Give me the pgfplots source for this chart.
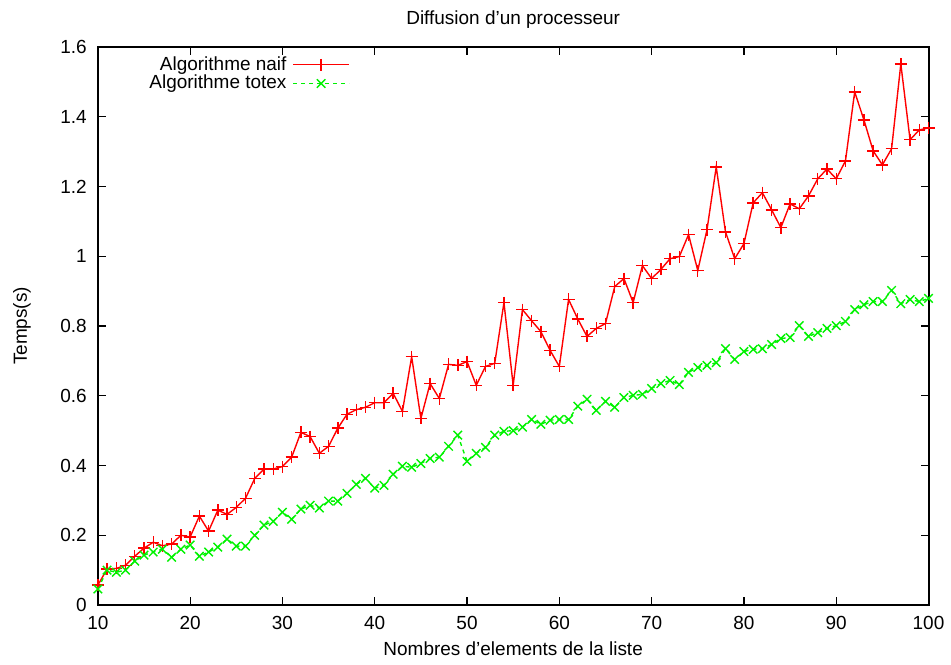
\documentclass[border=0pt]{standalone}
\usepackage{fontspec}
\setmainfont{Liberation Sans}
\usepackage{pgfplots}
\pgfplotsset{compat=1.18}
\usepackage{pgfplotstable}
\definecolor{gpred}{rgb}{1,0,0}
\definecolor{gpgreen}{rgb}{0,0.95,0}
\pgfplotstableread{
x y
10 0.057
11 0.103
12 0.105
13 0.114
14 0.140
15 0.163
16 0.180
17 0.170
18 0.175
19 0.200
20 0.195
21 0.255
22 0.212
23 0.272
24 0.260
25 0.280
26 0.306
27 0.363
28 0.390
29 0.390
30 0.397
31 0.424
32 0.495
33 0.483
34 0.435
35 0.455
36 0.507
37 0.547
38 0.560
39 0.567
40 0.580
41 0.580
42 0.607
43 0.555
44 0.712
45 0.535
46 0.635
47 0.592
48 0.690
49 0.687
50 0.698
51 0.630
52 0.684
53 0.693
54 0.867
55 0.630
56 0.847
57 0.815
58 0.784
59 0.730
60 0.684
61 0.876
62 0.820
63 0.770
64 0.793
65 0.807
66 0.913
67 0.936
68 0.867
69 0.973
70 0.936
71 0.962
72 0.993
73 0.999
74 1.062
75 0.959
76 1.076
77 1.256
78 1.070
79 0.993
80 1.036
81 1.153
82 1.182
83 1.133
84 1.082
85 1.150
86 1.136
87 1.173
88 1.222
89 1.250
90 1.222
91 1.273
92 1.471
93 1.391
94 1.302
95 1.262
96 1.308
97 1.551
98 1.334
99 1.362
100 1.368
}\naif
\pgfplotstableread{
x y
10 0.046
11 0.100
12 0.094
13 0.100
14 0.126
15 0.143
16 0.152
17 0.160
18 0.137
19 0.160
20 0.172
21 0.140
22 0.152
23 0.166
24 0.189
25 0.169
26 0.169
27 0.200
28 0.229
29 0.240
30 0.266
31 0.246
32 0.275
33 0.286
34 0.278
35 0.298
36 0.298
37 0.320
38 0.346
39 0.363
40 0.335
41 0.343
42 0.375
43 0.398
44 0.395
45 0.406
46 0.420
47 0.424
48 0.455
49 0.487
50 0.412
51 0.435
52 0.452
53 0.487
54 0.498
55 0.500
56 0.510
57 0.532
58 0.518
59 0.530
60 0.532
61 0.532
62 0.570
63 0.590
64 0.558
65 0.584
66 0.567
67 0.595
68 0.601
69 0.604
70 0.621
71 0.635
72 0.644
73 0.632
74 0.667
75 0.681
76 0.687
77 0.695
78 0.735
79 0.704
80 0.727
81 0.733
82 0.735
83 0.747
84 0.764
85 0.767
86 0.801
87 0.770
88 0.781
89 0.793
90 0.801
91 0.813
92 0.847
93 0.861
94 0.870
95 0.870
96 0.902
97 0.864
98 0.876
99 0.870
100 0.879
}\totex
\begin{document}
\begin{tikzpicture}[font=\fontsize{9.5}{11}\selectfont]
\begin{axis}[
  scale only axis,
  width=416pt, height=279.5pt,
  xmin=10, xmax=100, ymin=0, ymax=1.6,
  xtick={10,20,...,100},
  ytick={0,0.2,...,1.6},
  yticklabels={0,0.2,0.4,0.6,0.8,1,1.2,1.4,1.6},
  tick align=inside,
  major tick length=4pt,
  tick style={black, line width=0.6pt},
  axis line style={line width=1pt},
  /pgf/number format/assume math mode=true,
  xticklabel style={yshift=-2pt},
  yticklabel style={xshift=-2pt},
  title={Diffusion d'un processeur},
  title style={yshift=-0.5pt},
  xlabel={Nombres d'elements de la liste},
  ylabel={Temps(s)},
  xlabel style={yshift=0.5pt},
  ylabel style={yshift=8pt},
  legend style={draw=none, fill=none, at={(0.311,0.998)}, anchor=north east,
    legend cell align=right, row sep=-3pt, font=\fontsize{9.5}{11}\selectfont,
    nodes={inner xsep=3pt}},
  legend plot pos=right,
  legend image code/.code={\draw[mark repeat=2,mark phase=2,#1] plot coordinates {(0pt,0pt) (14pt,0pt) (28pt,0pt)};},
]
\addplot[color=gpred, line width=0.7pt, mark=+, mark size=3pt, mark options={solid, draw=gpred, line width=0.7pt}] table[x=x,y=y] {\naif};
\addlegendentry{Algorithme naif}
\addplot[color=gpgreen, line width=0.7pt, dash pattern=on 2pt off 2pt, mark=x, mark size=3pt, mark options={solid, draw=gpgreen, line width=0.7pt}] table[x=x,y=y] {\totex};
\addlegendentry{Algorithme totex}
\end{axis}
\useasboundingbox (-49pt,-30pt) rectangle (426.5pt,303pt);
\end{tikzpicture}
\end{document}
